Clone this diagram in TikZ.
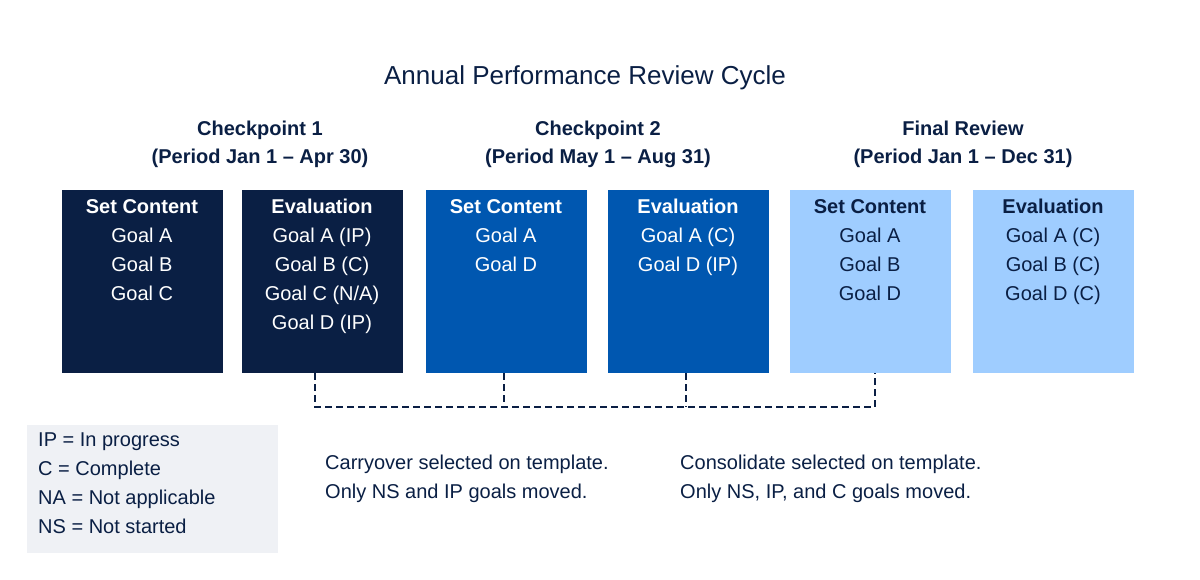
\documentclass[tikz,border=0pt]{standalone}
\usepackage{fontspec}
\setmainfont{Liberation Sans}
\usetikzlibrary{positioning}
\definecolor{navy}{HTML}{0A1F44}
\definecolor{midblue}{HTML}{0057B0}
\definecolor{lightblue}{HTML}{9FCDFF}
\definecolor{legendgray}{HTML}{EFF1F5}
\newcommand{\goals}[2]{\textbf{#1}\\#2}
\begin{document}
\begin{tikzpicture}[
        x=1pt,
        y=-1pt,
        every node/.style={font=\fontsize{20}{29}\selectfont},
        box/.style={minimum width=161pt, minimum height=183pt, inner sep=0pt, anchor=north},
        boxtext/.style={anchor=north, align=center, inner sep=0pt, yshift=-9pt},
        head/.style={align=center, font=\fontsize{20}{28}\selectfont\bfseries, text=navy},
        note/.style={align=left, anchor=north west, inner sep=0pt, text=navy},
        link/.style={draw=navy, line width=2pt, dash pattern=on 7pt off 4pt}
    ]
    \useasboundingbox (0,0) rectangle (1200,579);

    \node[font=\fontsize{26}{30}\selectfont, text=navy] (title) at (585,78) {Annual Performance Review Cycle};

    \node[head] (h1) at (260,144) {Checkpoint 1\\(Period Jan 1 -- Apr 30)};
    \node[head] (h2) at (598,144) {Checkpoint 2\\(Period May 1 -- Aug 31)};
    \node[head] (h3) at (963,144) {Final Review\\(Period Jan 1 -- Dec 31)};

    \node[box, fill=navy] (sc1) at (142,190) {};
    \node[box, fill=navy] (ev1) at (322,190) {};
    \node[box, fill=midblue] (sc2) at (506,190) {};
    \node[box, fill=midblue] (ev2) at (688,190) {};
    \node[box, fill=lightblue] (sc3) at (870,190) {};
    \node[box, fill=lightblue] (ev3) at (1053,190) {};

    \node[boxtext, text=white] at (sc1.north) {\goals{Set Content}{Goal A\\Goal B\\Goal C}};
    \node[boxtext, text=white] at (ev1.north) {\goals{Evaluation}{Goal A (IP)\\Goal B (C)\\Goal C (N/A)\\Goal D (IP)}};
    \node[boxtext, text=white] at (sc2.north) {\goals{Set Content}{Goal A\\Goal D}};
    \node[boxtext, text=white] at (ev2.north) {\goals{Evaluation}{Goal A (C)\\Goal D (IP)}};
    \node[boxtext, text=navy] at (sc3.north) {\goals{Set Content}{Goal A\\Goal B\\Goal D}};
    \node[boxtext, text=navy] at (ev3.north) {\goals{Evaluation}{Goal A (C)\\Goal B (C)\\Goal D (C)}};

    % dashed carry links
    \coordinate (j1) at (315,407);
    \coordinate (j2) at (504,407);
    \coordinate (j3) at (686,407);
    \coordinate (j4) at (875,407);
    \draw[link] (ev1.south -| j1) -- (j1) -- (j4) -- (sc3.south -| j4);
    \draw[link] (sc2.south -| j2) -- (j2);
    \draw[link] (ev2.south -| j3) -- (j3);

    \node[fill=legendgray, minimum width=251pt, minimum height=128pt, anchor=north west, inner sep=0pt] (legend) at (27,425) {};
    \node[note, yshift=-8pt, xshift=11pt] at (legend.north west) {IP = In progress\\C = Complete\\NA = Not applicable\\NS = Not started};

    \node[note] (carry) at (325,455) {Carryover selected on template.\\Only NS and IP goals moved.};
    \node[note] (consol) at (680,455) {Consolidate selected on template.\\Only NS, IP, and C goals moved.};
\end{tikzpicture}
\end{document}
